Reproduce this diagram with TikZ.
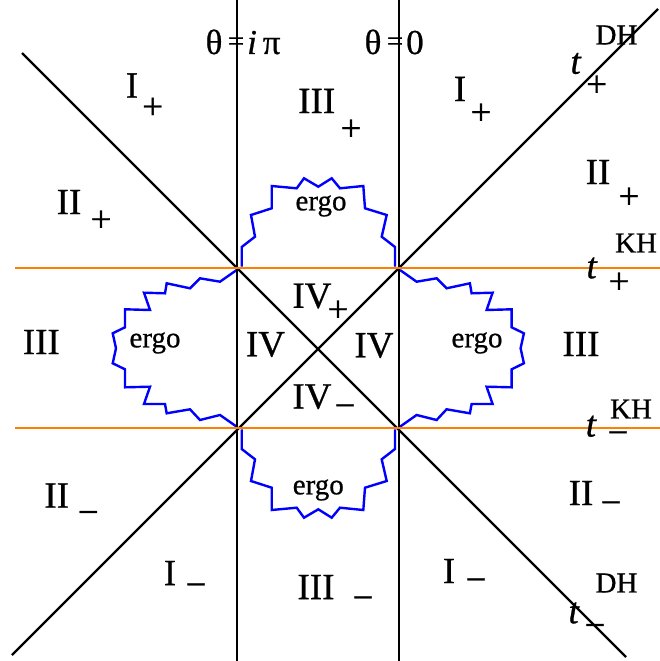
\documentclass[tikz,border=0pt]{standalone}
\usepackage{fontspec}
\setmainfont{Liberation Serif}
\newfontfamily\heavyserif[FakeBold=0.7]{Liberation Serif}
\definecolor{horange}{RGB}{255,128,0}
\definecolor{ergoblue}{RGB}{0,0,255}
\begin{document}
\begin{tikzpicture}[x=1pt,y=-1pt,
  axis/.style={line width=2.3pt,black},
  horizon/.style={line width=2.3pt,horange},
  ergoline/.style={line width=2.4pt,ergoblue,line join=miter},
  big/.style={inner sep=0pt,font=\heavyserif\fontsize{37}{40}\selectfont},
  sgn/.style={inner sep=0pt,font=\heavyserif\fontsize{37}{40}\selectfont},
  sup/.style={inner sep=0pt,font=\heavyserif\fontsize{29}{32}\selectfont},
  ergotext/.style={inner sep=0pt,font=\heavyserif\fontsize{29}{32}\selectfont},
  thetatext/.style={inner sep=0pt,anchor=base west,font=\heavyserif\fontsize{35}{38}\selectfont},
  eqtext/.style={inner sep=0pt,font=\heavyserif\fontsize{29}{32}\selectfont}]
\useasboundingbox (0,0) rectangle (660,661);
% endpoints
\coordinate (vLt) at (237,0);   \coordinate (vLb) at (237,661);
\coordinate (vRt) at (399,0);   \coordinate (vRb) at (399,661);
\coordinate (dAt) at (22,53);   \coordinate (dAb) at (626,657);
\coordinate (dBt) at (658,9);   \coordinate (dBb) at (12,655);
\coordinate (hTl) at (15,268);  \coordinate (hTr) at (660,268);
\coordinate (hBl) at (15,428);  \coordinate (hBr) at (660,428);
% ergo regions
\draw[ergoline] (241.7,266.7)--(241.7,247)--(255,236.7)--(251,215)--(271.7,208.3)--(271.7,186)--(296.7,188.3)--(304,178.3)--(318.3,186.7)--(331.7,178.3)--(340,188.3)--(363.3,186)--(365,208.3)--(386.7,215)--(381.7,236.7)--(395,247)--(395,266.7);
\draw[ergoline] (241.7,429.3)--(241.7,449)--(255,459.3)--(251,481)--(271.7,487.7)--(271.7,510)--(296.7,507.7)--(304,517.7)--(318.3,509.3)--(331.7,517.7)--(340,507.7)--(363.3,510)--(365,487.7)--(386.7,481)--(381.7,459.3)--(395,449)--(395,429.3);
\draw[ergoline] (236.7,270)--(220,281.7)--(200,278.3)--(190,288.3)--(166.7,283.3)--(165,293.3)--(144,292.7)--(150,310)--(125,309.3)--(125,327.3)--(112.7,333.3)--(116,348.3)--(112.7,363.3)--(125,369.3)--(125,387.3)--(150,386.7)--(144,404)--(165,404)--(166.7,413.3)--(190,409.3)--(200,420)--(220,415)--(236.7,426.7);
\draw[ergoline] (400,270)--(416.6,281.7)--(436.6,278.3)--(446.6,288.3)--(469.9,283.3)--(471.6,293.3)--(492.6,292.7)--(486.6,310)--(511.6,309.3)--(511.6,327.3)--(523.9,333.3)--(520.6,348.3)--(523.9,363.3)--(511.6,369.3)--(511.6,387.3)--(486.6,386.7)--(492.6,404)--(471.6,404)--(469.9,413.3)--(446.6,409.3)--(436.6,420)--(416.6,415)--(400,426.7);
% black lines
\draw[axis] (vLt) -- (vLb);
\draw[axis] (vRt) -- (vRb);
\draw[axis] (dAt) -- (dAb);
\draw[axis] (dBt) -- (dBb);
% horizons
\draw[horizon] (hTl) -- (hTr);
\draw[horizon] (hBl) -- (hBr);
% theta labels
\node[thetatext,anchor=base] (th1) at (214,54) {θ};
\node[eqtext] (eq1) at (236,44) {=};
\node[thetatext] (ip1) at (247,54) {\textit{i}\,π};
\node[thetatext,anchor=base] (th2) at (373,54) {θ};
\node[eqtext] (eq2) at (395,44) {=};
\node[thetatext] (zero) at (406,54) {0};
% region labels
\node[big] (ItlI) at (132,85.5) {I};   \node[sgn] (ItlS) at (152.7,108.3) {+};
\node[big] (IIIpI) at (316.7,101) {III}; \node[sgn] (IIIpS) at (351,130) {+};
\node[big] (ItrI) at (460,89) {I};   \node[sgn] (ItrS) at (481,114) {+};
\node[big] (IIlI) at (69,202) {II};  \node[sgn] (IIlS) at (101,221) {+};
\node[big] (IIrI) at (598,172) {II}; \node[sgn] (IIrS) at (629,198) {+};
\node[big] (IIIl) at (41.3,342) {III};
\node[big] (IIIr) at (581,344) {III};
\node[big] (IVl) at (265.5,344.5) {IV};
\node[big] (IVr) at (374,345.5) {IV};
\node[big] (IVpI) at (312,296) {IV}; \node[sgn] (IVpS) at (338,311) {+};
\node[big] (IVmI) at (312,396.7) {IV}; \node[sgn] (IVmS) at (345,411) {−};
\node[big] (IIblI) at (56.7,495.5) {II}; \node[sgn] (IIblS) at (88.3,517.7) {−};
\node[big] (IIbrI) at (581,493) {II}; \node[sgn] (IIbrS) at (611,508) {−};
\node[big] (IblI) at (170,573) {I};  \node[sgn] (IblS) at (196,590) {−};
\node[big] (IIImI) at (316,587) {III}; \node[sgn] (IIImS) at (363,603) {−};
\node[big] (IbrI) at (449,571) {I};  \node[sgn] (IbrS) at (476,585) {−};
% ergo labels
\node[ergotext] (ergoT) at (321,206) {ergo};
\node[ergotext] (ergoB) at (318.3,490) {ergo};
\node[ergotext] (ergoL) at (155,343) {ergo};
\node[ergotext] (ergoR) at (477,343) {ergo};
% t labels
\node[big] (tDHp) at (576,63.5) {\textit{t}}; \node[sup] (tDHpS) at (616.5,35) {DH}; \node[sgn] (tDHpB) at (596.7,86) {+};
\node[big] (tKHp) at (592,268) {\textit{t}}; \node[sup] (tKHpS) at (636,243) {KH}; \node[sgn] (tKHpB) at (619,283) {+};
\node[big] (tKHm) at (591.3,426.3) {\textit{t}}; \node[sup] (tKHmS) at (631,409) {KH}; \node[sgn] (tKHmB) at (618,438) {−};
\node[big] (tDHm) at (574,613) {\textit{t}}; \node[sup] (tDHmS) at (616.5,583) {DH}; \node[sgn] (tDHmB) at (595,630.7) {−};
\end{tikzpicture}
\end{document}
